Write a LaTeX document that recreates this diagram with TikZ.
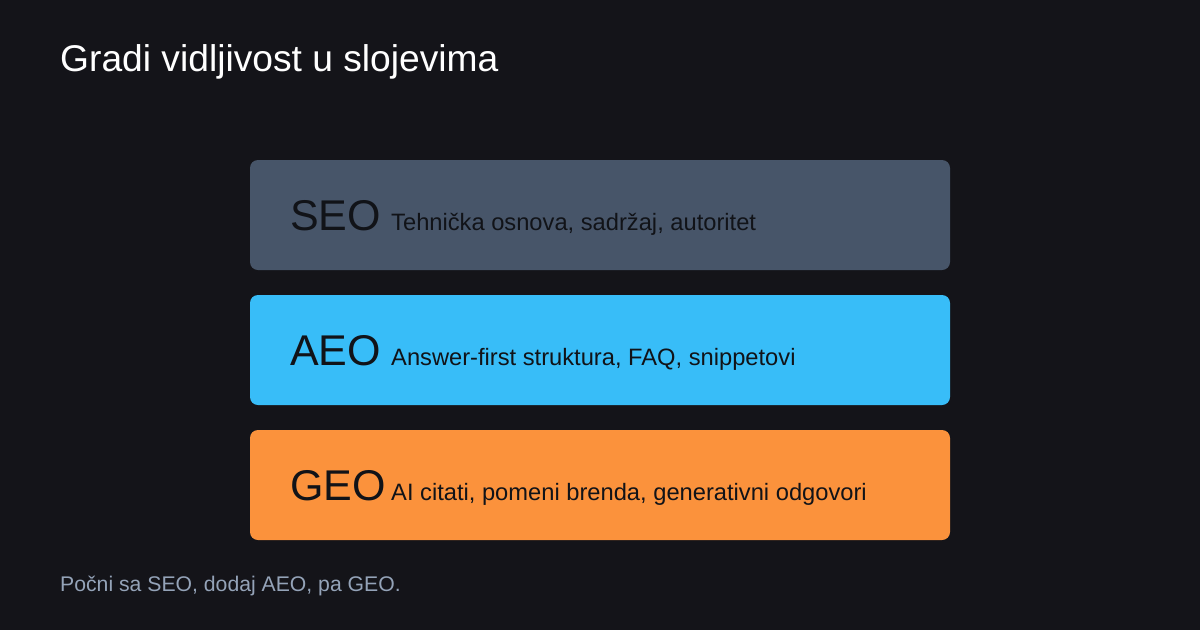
\documentclass[tikz,border=0pt]{standalone}
\usepackage{fontspec}
\setmainfont{Liberation Sans}
\usepackage{tikz}

\definecolor{bgdark}{HTML}{141419}
\definecolor{seofill}{HTML}{475569}
\definecolor{aeofill}{HTML}{38BDF8}
\definecolor{geofill}{HTML}{FB923C}
\definecolor{boxtext}{HTML}{111318}
\definecolor{notetext}{HTML}{94A3B8}

\begin{document}
\begin{tikzpicture}[x=1pt, y=-1pt,
	layer/.style={rounded corners=8pt},
	tag/.style={anchor=base west, inner sep=0pt, text=boxtext, font=\fontsize{43}{43}\selectfont},
	desc/.style={anchor=base west, inner sep=0pt, text=boxtext, font=\fontsize{23.7}{23.7}\selectfont}]
	\fill [bgdark] (0,0) rectangle (1200,630);
	\useasboundingbox (0,0) rectangle (1200,630);

	\node [anchor=base west, inner sep=0pt, text=white, font=\fontsize{37.2}{37.2}\selectfont] (title) at (60,71) {Gradi vidljivost u slojevima};

	\fill [layer, seofill] (250,160) rectangle (950,270);
	\node [tag] (seo) at (290,230) {SEO};
	\node [desc] (seodesc) at (391,230) {Tehnička osnova, sadržaj, autoritet};

	\fill [layer, aeofill] (250,295) rectangle (950,405);
	\node [tag] (aeo) at (290,365) {AEO};
	\node [desc] (aeodesc) at (391,365) {Answer-first struktura, FAQ, snippetovi};

	\fill [layer, geofill] (250,430) rectangle (950,540);
	\node [tag] (geo) at (290,500) {GEO};
	\node [desc] (geodesc) at (391,500) {AI citati, pomeni brenda, generativni odgovori};

	\node [anchor=base west, inner sep=0pt, text=notetext, font=\fontsize{21.2}{21.2}\selectfont] (note) at (60,591) {Počni sa SEO, dodaj AEO, pa GEO.};
\end{tikzpicture}
\end{document}
